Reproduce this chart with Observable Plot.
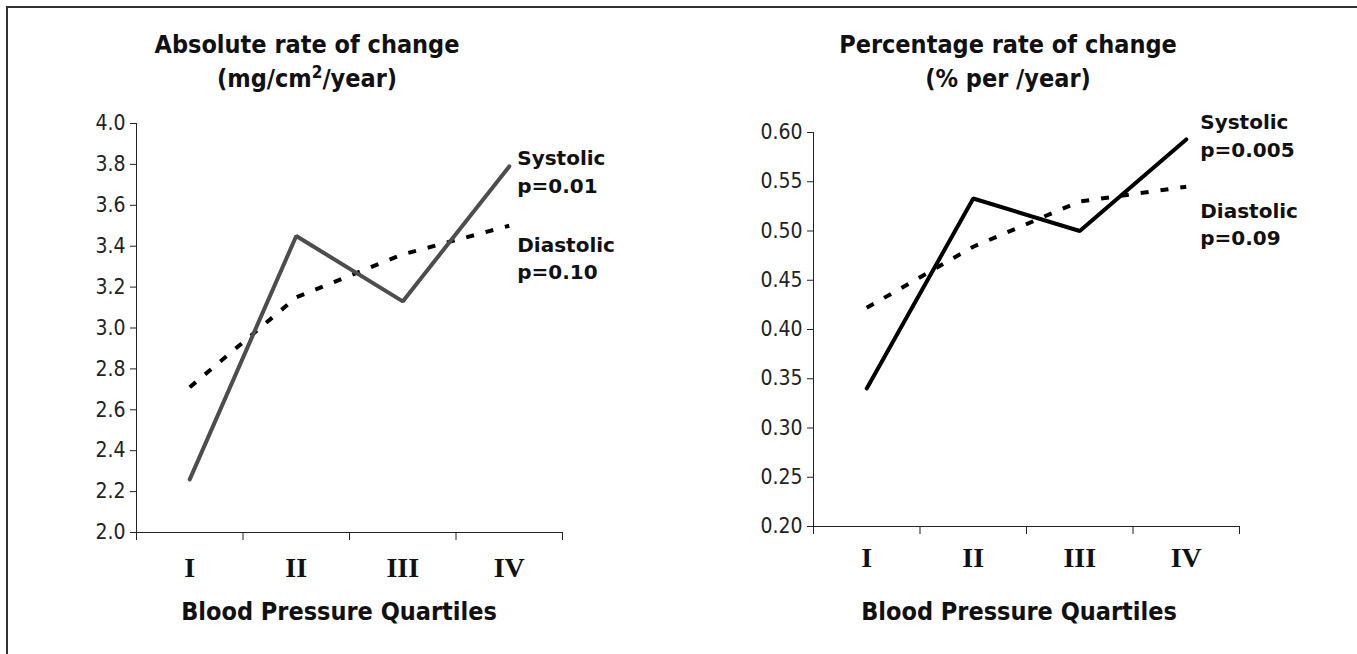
<!DOCTYPE html>
<html>
<head>
<meta charset="utf-8">
<script src="https://cdn.jsdelivr.net/npm/d3@7"></script>
<script src="https://cdn.jsdelivr.net/npm/@observablehq/plot@0.6"></script>
<style>
  html, body { margin: 0; padding: 0; background: #fff; }
  body { width: 1357px; height: 654px; overflow: hidden; position: relative; font-family: "DejaVu Sans", sans-serif; color: #111; }
  .frame { position: absolute; left: 6px; top: 6px; width: 1400px; height: 700px; border-top: 2px solid #333; border-left: 2px solid #333; }
  .title { position: absolute; width: 500px; text-align: center; font-family: "DejaVu Sans Condensed", "DejaVu Sans", sans-serif; font-weight: bold; font-size: 25px; line-height: 34px; color: #111; }
  .title sup { font-size: 17px; line-height: 0; vertical-align: 9px; }
  .xtitle { position: absolute; width: 500px; text-align: center; font-family: "DejaVu Sans Condensed", "DejaVu Sans", sans-serif; font-weight: bold; font-size: 25px; line-height: 30px; color: #111; }
  .chart { position: absolute; top: 100px; }
</style>
</head>
<body>
<div class="frame"></div>
<div class="title" style="left:57px; top:28px;">Absolute rate of change<br>(mg/cm<sup>2</sup>/year)</div>
<div class="title" style="left:758px; top:28px;">Percentage rate of change<br>(% per /year)</div>
<div class="chart" id="left" style="left:0px;"></div>
<div class="chart" id="right" style="left:680px;"></div>
<div class="xtitle" style="left:89px; top:597px;">Blood Pressure Quartiles</div>
<div class="xtitle" style="left:769px; top:597px;">Blood Pressure Quartiles</div>
<script>
// ---- data ----
const quartiles = ["I", "II", "III", "IV"];
const seriesNames = ["Systolic", "Diastolic"];

const absSystolic = [2.26, 3.45, 3.13, 3.79];
const absDiastolic = [2.71, 3.15, 3.36, 3.50];
const absPValues = ["p=0.01", "p=0.10"];
const absTicks = [2.0, 2.2, 2.4, 2.6, 2.8, 3.0, 3.2, 3.4, 3.6, 3.8, 4.0];

const pctSystolic = [0.340, 0.533, 0.500, 0.593];
const pctDiastolic = [0.422, 0.484, 0.530, 0.545];
const pctPValues = ["p=0.005", "p=0.09"];
const pctTicks = [0.20, 0.25, 0.30, 0.35, 0.40, 0.45, 0.50, 0.55, 0.60];

function panel(opts) {
  const {sys, dia, pvals, ticks, fmt, sysColor, width, height, mL, mR, mT, mB, labelOffsets, catDy} = opts;
  const last = quartiles.length - 1;
  const sysRows = quartiles.map((q, i) => ({q, i, value: sys[i]}));
  const diaRows = quartiles.map((q, i) => ({q, i, value: dia[i]}));
  const yMin = ticks[0], yMax = ticks[ticks.length - 1];
  const labelMark = (k, vals) => Plot.text([{i: last, value: vals[last], text: seriesNames[k] + "\n" + pvals[k]}], {
    x: d => d.i + 0.5, y: "value", text: "text", dx: labelOffsets[k][0], dy: labelOffsets[k][1],
    textAnchor: "start", lineHeight: 1.38, fontFamily: "DejaVu Sans, sans-serif", fontWeight: "bold", fontSize: 20, fill: "#111"
  });
  return Plot.plot({
    width, height,
    marginLeft: mL, marginRight: mR, marginTop: mT, marginBottom: mB,
    style: {fontFamily: "DejaVu Sans Condensed, DejaVu Sans, sans-serif", fontSize: "21px", color: "#222", background: "transparent", overflow: "visible"},
    x: {type: "linear", domain: [0, quartiles.length], ticks: d3.range(quartiles.length + 1), tickFormat: () => "", tickSize: 8, line: true, label: null},
    y: {type: "linear", domain: [yMin, yMax], ticks, tickFormat: fmt, tickSize: 6, tickPadding: 5, line: true, label: null},
    marks: [
      Plot.line(diaRows, {x: d => d.i + 0.5, y: "value", stroke: "#000", strokeWidth: 4, strokeDasharray: "8,12", strokeLinecap: "butt"}),
      Plot.line(sysRows, {x: d => d.i + 0.5, y: "value", stroke: sysColor, strokeWidth: 4, strokeLinejoin: "miter"}),
      Plot.text(quartiles, {x: (d, i) => i + 0.5, y: () => yMin, text: d => d, dy: catDy, fontFamily: "Liberation Serif, serif", fontWeight: "bold", fontSize: 28, fill: "#111"}),
      labelMark(0, sys),
      labelMark(1, dia)
    ]
  });
}

document.getElementById("left").append(panel({
  sys: absSystolic, dia: absDiastolic, pvals: absPValues, ticks: absTicks, fmt: d3.format(".1f"),
  sysColor: "#4d4d4d", width: 680, height: 540, mL: 136, mR: 118, mT: 23, mB: 108,
  labelOffsets: [[8, 4], [8, 31]], catDy: 36
}));
document.getElementById("right").append(panel({
  sys: pctSystolic, dia: pctDiastolic, pvals: pctPValues, ticks: pctTicks, fmt: d3.format(".2f"),
  sysColor: "#000", width: 677, height: 540, mL: 133, mR: 118, mT: 32, mB: 114,
  labelOffsets: [[14, -5], [14, 36]], catDy: 32
}));
</script>
</body>
</html>
